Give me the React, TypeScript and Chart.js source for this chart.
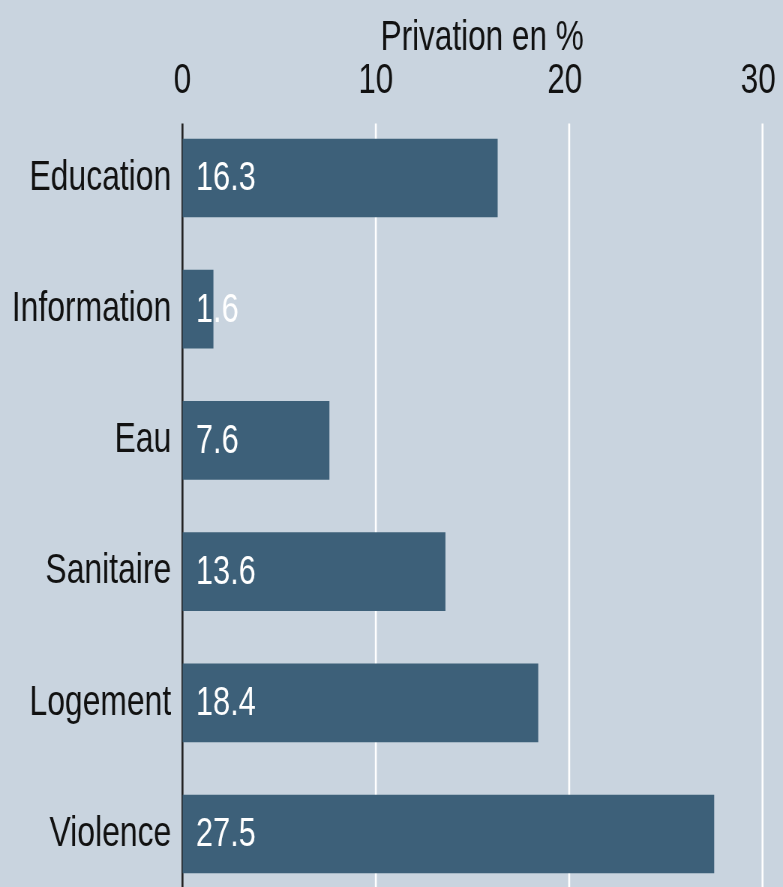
import React, { useEffect, useRef } from "react";
import { Chart, registerables } from "chart.js";

Chart.register(...registerables);

const categories = ["Education", "Information", "Eau", "Sanitaire", "Logement", "Violence"];
const values = [16.3, 1.6, 7.6, 13.6, 18.4, 27.5];
const tickValues = [0, 10, 20, 30];
const axisTitle = "Privation en %";

const FONT = "'Liberation Sans', Arial, Helvetica, sans-serif";
const BG = "#c9d4df";
const BAR = "#3d6079";
// The reference is a horizontally condensed rendering: draw on a wider bitmap
// and display it at the page width.
const PAGE_W = 783;
const PAGE_H = 887;
const SQUASH = 0.75;
const W = Math.round(PAGE_W / SQUASH);
const H = 920;

export default function App() {
  const ref = useRef<HTMLCanvasElement | null>(null);

  useEffect(() => {
    if (!ref.current) return;

    const gridPlugin = {
      id: "customGrid",
      beforeDatasetsDraw(chart: any) {
        const { ctx, chartArea, scales } = chart;
        const x = scales.x;
        const top = chartArea.top + 11;
        ctx.save();
        tickValues.forEach((v) => {
          const px = x.getPixelForValue(v);
          ctx.beginPath();
          ctx.strokeStyle = v === 0 ? "#222222" : "#ffffff";
          ctx.lineWidth = 2.6;
          ctx.moveTo(px, top);
          ctx.lineTo(px, chartArea.bottom);
          ctx.stroke();
        });
        ctx.restore();
      },
    };

    const valuePlugin = {
      id: "valueLabels",
      afterDatasetsDraw(chart: any) {
        const { ctx } = chart;
        const meta = chart.getDatasetMeta(0);
        ctx.save();
        ctx.fillStyle = "#ffffff";
        ctx.font = `41px ${FONT}`;
        ctx.textAlign = "left";
        ctx.textBaseline = "middle";
        meta.data.forEach((bar: any, i: number) => {
          ctx.fillText(values[i].toFixed(1), bar.base + 18, bar.y + 1);
        });
        ctx.restore();
      },
    };

    const chart = new Chart(ref.current, {
      type: "bar",
      data: {
        labels: categories,
        datasets: [
          {
            data: values,
            backgroundColor: BAR,
            borderWidth: 0,
            categoryPercentage: 1,
            barPercentage: 0.6,
          },
        ],
      },
      options: {
        indexAxis: "y",
        responsive: false,
        animation: false,
        devicePixelRatio: 1,
        layout: { padding: { left: 0, right: 1.5, top: 0, bottom: 20.4 } },
        plugins: {
          legend: { display: false },
          tooltip: { enabled: false },
        },
        scales: {
          x: {
            position: "top",
            min: 0,
            max: 31,
            afterBuildTicks(scale: any) {
              scale.ticks = tickValues.map((v) => ({ value: v }));
            },
            afterFit(scale: any) {
              scale.height = 112.4;
              scale.paddingLeft = 0;
              scale.paddingRight = 0;
            },
            grid: { display: false, drawTicks: false },
            border: { display: false },
            ticks: {
              color: "#111111",
              font: { family: FONT, size: 42 },
              padding: 6,
              maxRotation: 0,
              autoSkip: false,
              callback: (v: any) => (Number(v) >= 20 ? `${v} ` : String(v)),
            },
            title: {
              display: true,
              text: axisTitle,
              color: "#111111",
              font: { family: FONT, size: 42 },
              padding: { top: 13, bottom: 0 },
            },
          },
          y: {
            afterFit(scale: any) {
              scale.width = 243.3;
              scale.paddingTop = 0;
              scale.paddingBottom = 0;
            },
            grid: { display: false, drawTicks: false },
            border: { display: false },
            ticks: {
              color: "#111111",
              font: { family: FONT, size: 42.5 },
              padding: 15,
              autoSkip: false,
            },
          },
        },
      },
      plugins: [gridPlugin, valuePlugin],
    });

    return () => chart.destroy();
  }, []);

  return (
    <div
      style={{
        position: "fixed",
        left: 0,
        top: 0,
        width: PAGE_W,
        height: PAGE_H,
        overflow: "hidden",
        background: BG,
      }}
    >
      <canvas
        ref={ref}
        width={W}
        height={H}
        style={{ display: "block", width: PAGE_W, height: H }}
      />
    </div>
  );
}
